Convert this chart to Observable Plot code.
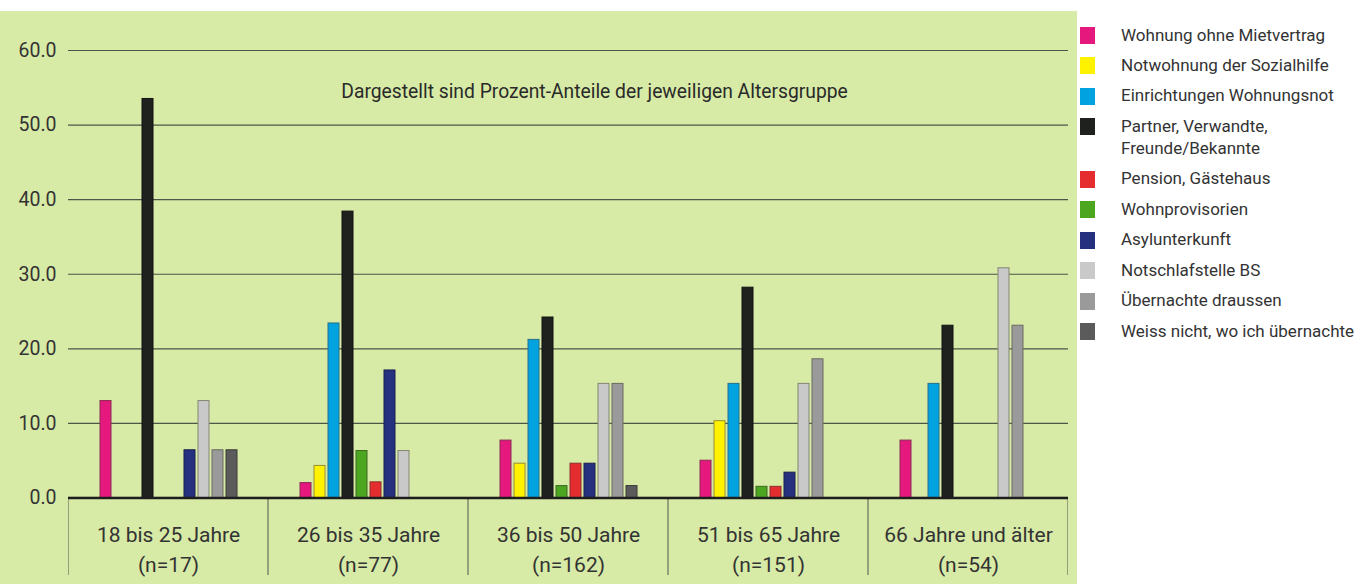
<!DOCTYPE html>
<html>
<head>
<meta charset="utf-8">
<script src="https://cdn.jsdelivr.net/npm/d3@7"></script>
<script src="https://cdn.jsdelivr.net/npm/@observablehq/plot@0.6"></script>
<style>
  html, body { margin: 0; padding: 0; background: #ffffff; }
  #wrap { position: relative; width: 1370px; height: 584px; overflow: hidden; background: #ffffff; font-family: Roboto, sans-serif; }
  #bg { position: absolute; left: 0; top: 10.5px; width: 1077px; height: 574px; background: #d7eaa6; }
  #chart { position: absolute; left: 0; top: 10px; }
  #legend { position: absolute; left: 1080px; top: 24.5px; color: #333; font-size: 17px; }
  .row { display: flex; align-items: flex-start; margin-bottom: 8.7px; }
  .sw { width: 15px; height: 17px; margin-top: 2.5px; margin-right: 26px; flex: none; }
  .lbl { line-height: 21.8px; }
</style>
</head>
<body>
<div id="wrap">
  <div id="bg"></div>
  <div id="chart"></div>
  <div id="legend"></div>
</div>
<script>
// ---- Data ----
const groups = ["18 bis 25 Jahre", "26 bis 35 Jahre", "36 bis 50 Jahre", "51 bis 65 Jahre", "66 Jahre und älter"];
const groupN = ["(n=17)", "(n=77)", "(n=162)", "(n=151)", "(n=54)"];

// bar order as drawn in each group
const series = [
  "Wohnung ohne Mietvertrag",
  "Notwohnung der Sozialhilfe",
  "Einrichtungen Wohnungsnot",
  "Partner, Verwandte, Freunde/Bekannte",
  "Wohnprovisorien",
  "Pension, Gästehaus",
  "Asylunterkunft",
  "Notschlafstelle BS",
  "Übernachte draussen",
  "Weiss nicht, wo ich übernachte"
];
// legend order as printed
const legendOrder = [0, 1, 2, 3, 5, 4, 6, 7, 8, 9];
const legendLabels = [
  "Wohnung ohne Mietvertrag",
  "Notwohnung der Sozialhilfe",
  "Einrichtungen Wohnungsnot",
  "Partner, Verwandte,\nFreunde/Bekannte",
  "Wohnprovisorien",
  "Pension, Gästehaus",
  "Asylunterkunft",
  "Notschlafstelle BS",
  "Übernachte draussen",
  "Weiss nicht, wo ich übernachte"
];

const wohnungOhneMietvertrag = [13.0, 2.0, 7.7, 5.0, 7.7];
const notwohnungSozialhilfe  = [0, 4.3, 4.6, 10.3, 0];
const einrichtungenWohnungsnot = [0, 23.4, 21.2, 15.3, 15.3];
const partnerVerwandte       = [53.5, 38.4, 24.2, 28.2, 23.1];
const wohnprovisorien        = [0, 6.3, 1.6, 1.5, 0];
const pensionGaestehaus      = [0, 2.1, 4.6, 1.5, 0];
const asylunterkunft         = [6.4, 17.1, 4.6, 3.4, 0];
const notschlafstelleBS      = [13.0, 6.3, 15.3, 15.3, 30.8];
const uebernachteDraussen    = [6.4, 0, 15.3, 18.6, 23.1];
const weissNicht             = [6.4, 0, 1.6, 0, 0];
const seriesValues = [wohnungOhneMietvertrag, notwohnungSozialhilfe, einrichtungenWohnungsnot, partnerVerwandte,
  wohnprovisorien, pensionGaestehaus, asylunterkunft, notschlafstelleBS, uebernachteDraussen, weissNicht];

const seriesColors = ["#e4187d", "#fff200", "#00a3e0", "#1f211f", "#4ca620", "#e52d30", "#25307e", "#c9c9c9", "#9a9a9a", "#5a5b5a"];
const seriesStrokes = ["#8a2a55", "#9a8f30", "#2a6f8a", "#111111", "#3d6a22", "#8a3030", "#1a1f50", "#858575", "#6a6a62", "#3a3a3a"];

const yTicks = [0, 10, 20, 30, 40, 50, 60];
const subtitle = "Dargestellt sind Prozent-Anteile der jeweiligen Altersgruppe";

// ---- Build table ----
const bars = [];
series.forEach((s, i) => groups.forEach((g, j) => {
  const v = seriesValues[i][j];
  if (v > 0) bars.push({group: g, series: s, value: v, fill: seriesColors[i], stroke: seriesStrokes[i]});
}));
const labelRows = groups.map((g, j) => ({group: g, text: g + "\n" + groupN[j]}));

const plot = Plot.plot({
  width: 1077,
  height: 574,
  marginLeft: 67,
  marginRight: 9,
  marginTop: 40,
  marginBottom: 9,
  style: {background: "transparent", fontFamily: "Roboto, sans-serif", color: "#333"},
  fx: {domain: groups, padding: 0, axis: null},
  x: {domain: series, paddingInner: 0.22, paddingOuter: 2.15, axis: null},
  y: {domain: [-10.39, 60], axis: null},
  marks: [
    Plot.ruleY(yTicks.filter(d => d > 0), {stroke: "#50554a", strokeWidth: 1.2}),
    Plot.rect(groups, {fx: d => d, y1: () => 0, y2: () => -30, fill: "none", stroke: "#6a6e60", strokeWidth: 1.2, clip: true}),
    Plot.barY(bars, {fx: "group", x: "series", y: "value", fill: "fill", stroke: "stroke", strokeWidth: 1}),
    Plot.ruleY([0], {stroke: "#1e1e1e", strokeWidth: 2.6}),
    Plot.axisY({ticks: yTicks, tickFormat: d3.format(".1f"), tickSize: 0, tickPadding: 12, fontSize: 19.5, label: null, fill: "#333"}),
    Plot.text(labelRows, {fx: "group", text: "text", frameAnchor: "bottom", lineAnchor: "middle", dy: -28.3, lineHeight: 1.43, fontSize: 21, fill: "#333"}),
    Plot.text([subtitle], {fx: [groups[2]], text: d => d, frameAnchor: "top", lineAnchor: "middle", dy: 41, dx: 26, fontSize: 19.3, fill: "#2a2a2a"})
  ]
});
document.getElementById("chart").appendChild(plot);

// ---- Legend ----
const legend = d3.select("#legend");
legendOrder.forEach(i => {
  const row = legend.append("div").attr("class", "row");
  row.append("div").attr("class", "sw").style("background", seriesColors[i]);
  const lbl = row.append("div").attr("class", "lbl");
  legendLabels[i].split("\n").forEach(line => lbl.append("div").text(line));
});
</script>
</body>
</html>
